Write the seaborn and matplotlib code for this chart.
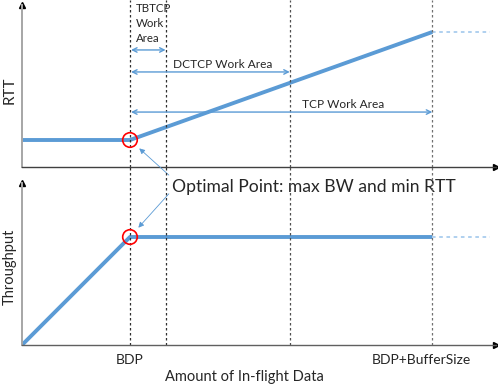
import matplotlib
matplotlib.use("Agg")
import matplotlib.pyplot as plt
import seaborn as sns

# ---- data (x in units of BDP) ----
bdp = 1.0
tbtcp_end = 1.33
dctcp_end = 2.48
buffer_end = 3.8          # BDP + BufferSize
beyond_end = 4.33
x_max = 4.39

rtt_x = [0.0, bdp, buffer_end]
rtt_y = [0.2, 0.2, 1.0]
thr_x = [0.0, bdp, buffer_end]
thr_y = [0.0, 0.8, 0.8]
ext_x = [buffer_end, beyond_end]
ext_rtt = [1.0, 1.0]
ext_thr = [0.8, 0.8]

vlines = [bdp, tbtcp_end, dctcp_end, buffer_end]
vline_colors = ["#303030", "#303030", "#505050", "#707070"]
areas = ["TBTCP\nWork\nArea", "DCTCP Work Area", "TCP Work Area"]
area_ends = [tbtcp_end, dctcp_end, buffer_end]
area_y = [0.867, 0.704, 0.407]
xtick_pos = [bdp, 3.7]
xtick_lab = ["BDP", "BDP+BufferSize"]

sns.set_style("white")
plt.rcParams["font.family"] = ["Lato", "DejaVu Sans"]

BLUE = "#5B9BD5"
LIGHT = "#A9CDEE"

fig = plt.figure(figsize=(4.98, 3.87), dpi=100)
W, H = 498, 387
def box(l, t, r, b):
    return [l / W, 1 - b / H, (r - l) / W, (b - t) / H]

ax1 = fig.add_axes(box(22, 5, 496, 167))
ax2 = fig.add_axes(box(22, 183, 496, 345))

for ax in (ax1, ax2):
    ax.set_xlim(0, x_max)
    ax.set_ylim(0, 1.2)
    ax.set_xticks([]); ax.set_yticks([])
    ax.set_xlabel(""); ax.set_ylabel("")
    ax.patch.set_alpha(0)
    for s in ("top", "right"):
        ax.spines[s].set_visible(False)
    ax.spines["left"].set_color("#A6A6A6")
    ax.spines["left"].set_linewidth(1.4)
    ax.spines["bottom"].set_linewidth(1.0)
    ax.plot(0, 1, "^", color="black", ms=5, transform=ax.transAxes, clip_on=False)
    ax.plot(1, 0, ">", color="black", ms=5, transform=ax.transAxes, clip_on=False)
ax1.spines["bottom"].set_color("#404040")
ax2.spines["bottom"].set_color("#606060")

# main curves
sns.lineplot(x=rtt_x, y=rtt_y, ax=ax1, color=BLUE, lw=2.8, solid_capstyle="butt")
sns.lineplot(x=thr_x, y=thr_y, ax=ax2, color=BLUE, lw=2.8, solid_capstyle="butt")
sns.lineplot(x=ext_x, y=ext_rtt, ax=ax1, color=LIGHT, lw=1.3, linestyle=(0, (2, 2)))
sns.lineplot(x=ext_x, y=ext_thr, ax=ax2, color=LIGHT, lw=1.3, linestyle=(0, (2, 2)))

# vertical dotted lines spanning both panels
top_ext = 167 / 162
bot_ext = (345 - 167 + 2) / 162
for xv, c in zip(vlines, vline_colors):
    ax1.axvline(xv, ymin=0, ymax=top_ext, color=c, lw=0.9, ls=(0, (2, 2)), clip_on=False)
    ax2.axvline(xv, ymin=0, ymax=bot_ext, color=c, lw=0.9, ls=(0, (2, 2)), clip_on=False)

# optimal points
sns.scatterplot(x=[bdp], y=[rtt_y[1]], ax=ax1, s=110, facecolor="none",
                edgecolor="red", linewidth=1.2, zorder=5)
sns.scatterplot(x=[bdp], y=[thr_y[1]], ax=ax2, s=110, facecolor="none",
                edgecolor="red", linewidth=1.2, zorder=5)

# work area arrows
for lab, xe, yy in zip(areas, area_ends, area_y):
    ax1.annotate("", xy=(xe, yy), xytext=(bdp + 0.01, yy),
                 arrowprops=dict(arrowstyle="<->", color=BLUE, lw=1.0,
                                 shrinkA=0, shrinkB=0, mutation_scale=8))
ax1.text(1.055, 1.215, areas[0], fontsize=8.3, va="top", ha="left",
         linespacing=1.45, clip_on=False)
ax1.text(1.86, area_y[1] + 0.015, areas[1], fontsize=8.6,
         ha="center", va="bottom")
ax1.text(2.97, area_y[2] + 0.015, areas[2], fontsize=8.6,
         ha="center", va="bottom")

# optimal point annotation
ax1.text(1.39, -0.145, "Optimal Point: max BW and min RTT", fontsize=12.6,
         ha="left", va="center", clip_on=False)
ax1.annotate("", xy=(bdp, rtt_y[1]), xytext=(1.36, -0.06),
             arrowprops=dict(arrowstyle="-|>", color=BLUE, lw=0.6,
                             shrinkA=0, shrinkB=9, mutation_scale=8))
ax2.annotate("", xy=(bdp, thr_y[1]), xytext=(1.36, 1.12),
             arrowprops=dict(arrowstyle="-|>", color=BLUE, lw=0.6,
                             shrinkA=0, shrinkB=9, mutation_scale=8))

# axis labels
ax1.text(-0.11, 0.57, "RTT", rotation=90, fontsize=11, ha="center", va="center",
         clip_on=False)
ax2.text(-0.11, 0.58, "Throughput", rotation=90, fontsize=10.5, ha="center",
         va="center", clip_on=False)
for xp, lab in zip(xtick_pos, xtick_lab):
    ax2.text(xp, -0.07, lab, fontsize=10, ha="center", va="top", clip_on=False)
fig.text(244 / W, 1 - 377 / H, "Amount of In-flight Data", fontsize=10.5,
         ha="center", va="center")

fig.savefig("out.png", dpi=100)
